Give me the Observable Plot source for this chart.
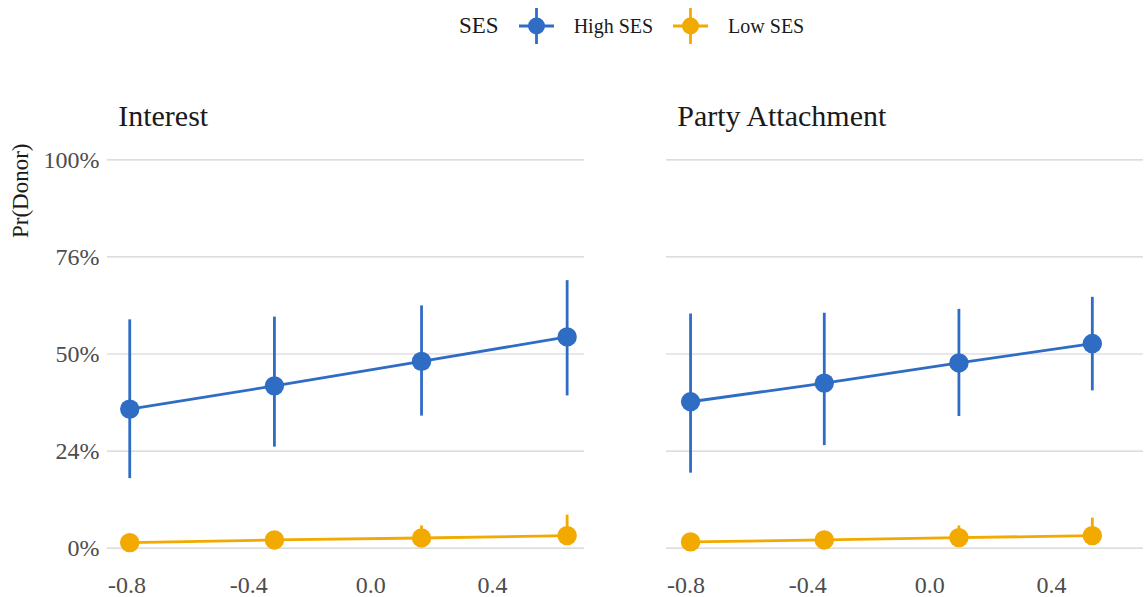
<!DOCTYPE html>
<html>
<head>
<meta charset="utf-8">
<script src="https://cdn.jsdelivr.net/npm/d3@7"></script>
<script src="https://cdn.jsdelivr.net/npm/@observablehq/plot@0.6"></script>
<style>
  html, body { margin: 0; padding: 0; background: #fff; }
  body { width: 1144px; font-family: "Liberation Serif", "DejaVu Serif", serif; }
  #legend {
    position: relative; height: 52px; margin-bottom: 8px;
    display: flex; align-items: center; gap: 20px;
    padding-left: 459px; box-sizing: border-box; color: #1a1a1a;
  }
  #legend .title { font-size: 23px; }
  #legend .label { font-size: 20px; }
  #legend svg { display: block; }
  #chart svg { display: block; }
  #chart svg text { font-family: "Liberation Serif", "DejaVu Serif", serif; }
</style>
</head>
<body>
<div id="legend"></div>
<div id="chart"></div>
<script>
// Facets and groups
const facets = ["Interest", "Party Attachment"];
const groups = ["High SES", "Low SES"];
const groupColors = ["#2f6cc4", "#f2a900"];
const serif = "Liberation Serif, DejaVu Serif, serif";

// Predictor values at which probabilities were computed
const interestX = [-0.791, -0.316, 0.167, 0.645];
const partyX = [-0.785, -0.346, 0.096, 0.534];

// Interest: predicted Pr(Donor) with intervals
const interestHighEst = [0.358, 0.418, 0.481, 0.544];
const interestHighLo  = [0.179, 0.260, 0.340, 0.392];
const interestHighHi  = [0.588, 0.595, 0.624, 0.689];
const interestLowEst  = [0.014, 0.021, 0.026, 0.032];
const interestLowLo   = [0.004, 0.008, 0.010, 0.012];
const interestLowHi   = [0.027, 0.035, 0.057, 0.085];

// Party Attachment: predicted Pr(Donor) with intervals
const partyHighEst = [0.377, 0.425, 0.477, 0.527];
const partyHighLo  = [0.193, 0.264, 0.339, 0.405];
const partyHighHi  = [0.603, 0.605, 0.615, 0.646];
const partyLowEst  = [0.016, 0.021, 0.027, 0.032];
const partyLowLo   = [0.005, 0.008, 0.010, 0.012];
const partyLowHi   = [0.028, 0.035, 0.057, 0.077];

// Axis ticks
const xTickValues = [-0.8, -0.4, 0.0, 0.4];
const xTickLabels = ["-0.8", "-0.4", "0.0", "0.4"];
const yTickValues = [0, 0.25, 0.5, 0.75, 1];
const yTickLabels = ["0%", "24%", "50%", "76%", "100%"];

// Long-format rows for the marks
function series(facet, group, xs, est, lo, hi) {
  return xs.map((x, i) => ({facet, group, x, est: est[i], lo: lo[i], hi: hi[i]}));
}
const rows = [
  ...series(facets[0], groups[0], interestX, interestHighEst, interestHighLo, interestHighHi),
  ...series(facets[0], groups[1], interestX, interestLowEst, interestLowLo, interestLowHi),
  ...series(facets[1], groups[0], partyX, partyHighEst, partyHighLo, partyHighHi),
  ...series(facets[1], groups[1], partyX, partyLowEst, partyLowLo, partyLowHi)
];

// Legend: point with a crossing range line for each group
const legend = document.getElementById("legend");
const title = document.createElement("span");
title.className = "title";
title.textContent = "SES";
legend.appendChild(title);
groups.forEach((g, i) => {
  const key = d3.create("svg").attr("width", 35).attr("height", 36);
  key.append("line").attr("x1", 0).attr("x2", 35).attr("y1", 18).attr("y2", 18)
    .attr("stroke", groupColors[i]).attr("stroke-width", 2.8);
  key.append("line").attr("x1", 17.5).attr("x2", 17.5).attr("y1", 0).attr("y2", 36)
    .attr("stroke", groupColors[i]).attr("stroke-width", 2.8);
  key.append("circle").attr("cx", 17.5).attr("cy", 18).attr("r", 8.5).attr("fill", groupColors[i]);
  legend.appendChild(key.node());
  const lab = document.createElement("span");
  lab.className = "label";
  lab.textContent = g;
  legend.appendChild(lab);
});

const chart = Plot.plot({
  width: 1144,
  height: 537,
  marginLeft: 106,
  marginRight: 0,
  marginTop: 80,
  marginBottom: 30,
  style: {fontFamily: serif, fontSize: "24px", color: "#4d4d4d", background: "#fff"},
  fx: {domain: facets, paddingInner: 0.1464, paddingOuter: 0, axis: null, label: null},
  x: {domain: [-0.864, 0.702], axis: null},
  y: {domain: [-0.05, 1.05], axis: null},
  color: {domain: groups, range: groupColors},
  marks: [
    Plot.gridY(yTickValues, {stroke: "#d2d2d2", strokeOpacity: 1, strokeWidth: 1.2}),
    Plot.axisY(yTickValues, {
      tickSize: 0, tickPadding: 8, label: null, fill: "#4d4d4d",
      fontFamily: serif, fontSize: 24, fontVariant: "normal",
      tickFormat: d => yTickLabels[yTickValues.indexOf(d)]
    }),
    Plot.axisX(xTickValues, {
      tickSize: 0, tickPadding: 8, label: null, fill: "#4d4d4d",
      fontFamily: serif, fontSize: 24, fontVariant: "normal",
      tickFormat: d => xTickLabels[xTickValues.indexOf(d)]
    }),
    Plot.text(facets, {
      fx: d => d, text: d => d, frameAnchor: "top-left", textAnchor: "start",
      lineAnchor: "bottom", dx: 10.7, dy: -15, fontSize: 30, fill: "#1a1a1a", fontFamily: serif
    }),
    Plot.text(["Pr(Donor)"], {
      fx: () => facets[0], text: d => d, frameAnchor: "top-left", rotate: -90,
      textAnchor: "end", lineAnchor: "middle", dx: -87, dy: 3, fontSize: 23, fill: "#1a1a1a", fontFamily: serif
    }),
    Plot.line(rows, {fx: "facet", x: "x", y: "est", z: "group", stroke: "group", strokeWidth: 2.8}),
    Plot.ruleX(rows, {fx: "facet", x: "x", y1: "lo", y2: "hi", stroke: "group", strokeWidth: 2.8}),
    Plot.dot(rows, {fx: "facet", x: "x", y: "est", fill: "group", r: 9.7})
  ]
});
document.getElementById("chart").appendChild(chart);
</script>
</body>
</html>
